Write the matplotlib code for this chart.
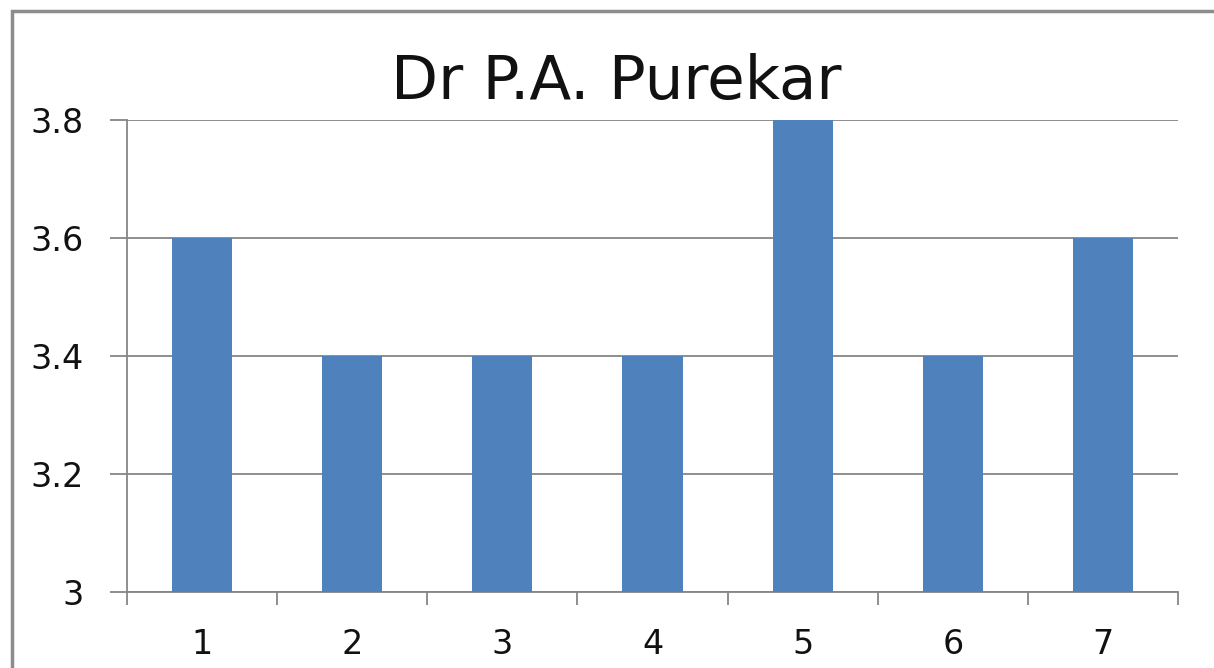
import matplotlib
matplotlib.use("Agg")
import matplotlib.pyplot as plt
from matplotlib.patches import Rectangle

categories = ["1", "2", "3", "4", "5", "6", "7"]
values = [3.6, 3.4, 3.4, 3.4, 3.8, 3.4, 3.6]
y_ticks = [3.0, 3.2, 3.4, 3.6, 3.8]
y_tick_labels = ["3", "3.2", "3.4", "3.6", "3.8"]
title = "Dr P.A. Purekar"

plt.rcParams['font.family'] = ['DejaVu Sans']

W, H = 1214, 668
fig = plt.figure(figsize=(W / 100, H / 100), dpi=100)
ax = fig.add_axes([127 / W, 1 - 592 / H, (1178 - 127) / W, (592 - 120) / H])

grey = "#868686"
x = list(range(1, len(categories) + 1))
ax.bar(x, [v - 3.0 for v in values], bottom=3.0, width=0.4, color="#4F81BD", zorder=3)

ax.set_xlim(0.5, len(categories) + 0.5)
ax.set_ylim(3.0, 3.8)
ax.set_yticks(y_ticks)
ax.set_yticklabels(y_tick_labels)
ax.set_xticks(x)
ax.set_xticklabels(categories)
ax.set_xticks([i + 0.5 for i in range(len(categories) + 1)], minor=True)

ax.yaxis.grid(True, color=grey, linewidth=1.3, zorder=0)
ax.set_axisbelow(True)

for s in ["top", "right"]:
    ax.spines[s].set_visible(False)
for s in ["left", "bottom"]:
    ax.spines[s].set_color(grey)
    ax.spines[s].set_linewidth(1.3)

ax.tick_params(axis="y", length=12.2, width=1.3, color=grey, pad=19, labelsize=24, labelcolor="#111111")
ax.tick_params(axis="x", which="major", length=0, pad=26, labelsize=24, labelcolor="#111111")
ax.tick_params(axis="x", which="minor", length=9.4, width=1.3, color=grey)

fig.text(616 / W, 1 - 82 / H, title, ha="center", va="center", fontsize=44, color="#111111")

fig.patches.append(Rectangle((11.5 / W, -0.1), 1.2, 1 - 11.5 / H + 0.1, transform=fig.transFigure,
                             fill=False, edgecolor="#8c8c8c", linewidth=2.5))

fig.savefig("out.png", dpi=100)
